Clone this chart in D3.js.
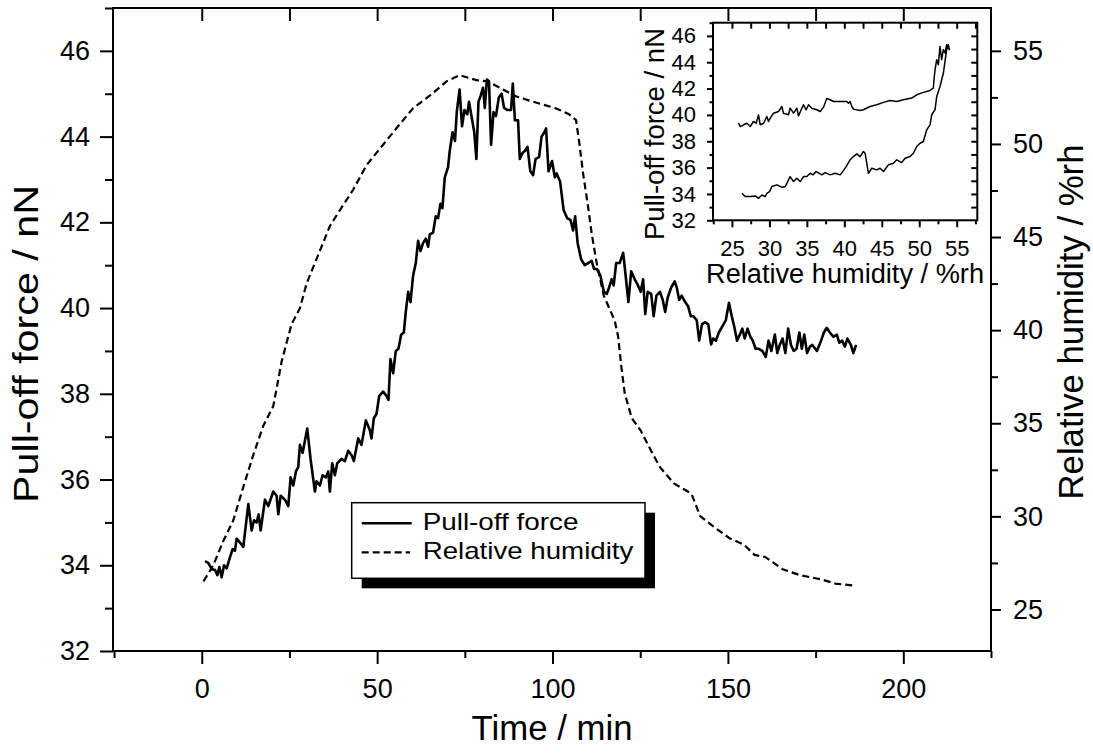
<!DOCTYPE html>
<html><head><meta charset="utf-8">
<script src="https://cdn.jsdelivr.net/npm/d3@7"></script>
<style>
html,body{margin:0;padding:0;background:#fff;}
svg{display:block;font-family:"Liberation Sans",Arial,sans-serif;}
</style></head>
<body><svg id="chart" width="1093" height="753"></svg>
<script>
// ---------- data ----------
const forceTime = [0.94,1.89,2.84,3.79,4.45,5.02,5.68,6.35,7.11,8.06,8.82,9.48,9.95,10.9,11.85,13.28,14.23,14.89,15.65,16.22,16.79,18.02,18.97,20.39,21.34,21.82,22.48,23.72,24.67,25.33,26.09,26.85,27.51,27.99,28.75,30.08,31.02,32.26,32.73,33.68,34.44,35.39,36.06,36.53,37.19,37.95,38.62,39.85,40.8,41.75,42.7,43.36,44.6,45.55,46.78,47.92,48.39,49.06,49.82,50.58,51.72,52.67,53.23,53.8,54.56,55.32,56.08,56.84,57.6,58.17,58.84,59.5,60.26,61.02,61.68,62.35,63.11,63.87,64.53,65.0,65.95,66.71,67.38,68.04,68.61,69.28,70.22,
70.7,71.5,72.2,72.7,73.5,74.2,74.89,75.69,76.19,76.89,77.69,78.29,78.89,79.49,80.19,80.69,81.29,81.89,82.48,83.18,83.88,84.68,85.48,86.18,87.18,88.18,88.68,89.28,90.17,90.67,91.47,92.17,92.87,93.67,94.47,95.17,96.17,96.87,97.66,98.16,98.86,99.86,100.66,101.16,102.16,103.16,104.16,105.16,105.85,106.45,107.15,108.15,109.15,110.15,111.15,111.85,112.65,113.64,114.64,115.44,116.14,116.84,117.44,118.14,119.14,120.14,120.84,121.63,122.43,123.43,124.13,125.13,125.83,126.43,127.13,128.13,128.82,129.62,130.62,131.42,132.12,132.82,133.82,134.82,135.42,136.12,136.81,137.81,138.61,139.41,140.11,141.11,141.81,142.61,143.41,144.41,145.2,145.8,146.6,147.4,148.4,149.4,150.3,151.1,151.8,152.6,153.39,154.09,154.79,155.59,156.39,157.09,157.89,158.79,159.79,160.78,161.58,162.38,163.38,164.08,164.78,165.58,166.38,167.18,167.97,168.77,169.57,170.37,171.07,171.77,172.57,173.37,174.07,175.37,176.56,177.36,178.16,179.06,180.06,181.06,181.76,182.56,183.35,184.05,185.05,185.75,186.55];
const forceValue = [34.10,34.05,33.91,33.89,33.77,33.96,33.72,34.00,33.93,34.19,34.38,34.34,34.62,34.53,34.43,35.43,34.81,35.05,35.00,35.19,34.81,35.53,35.38,35.72,35.62,35.19,35.62,35.53,35.38,36.05,35.86,36.19,36.29,36.81,36.62,37.19,36.48,35.72,35.96,35.86,36.10,36.05,36.19,35.72,36.38,36.10,36.38,36.48,36.43,36.67,36.57,36.43,36.96,36.81,37.38,37.15,36.96,37.43,37.53,37.95,38.05,37.95,37.86,38.81,38.48,39.00,39.05,39.38,39.43,39.91,40.38,40.14,40.76,41.05,41.57,41.33,41.52,41.62,41.43,41.72,41.76,42.14,42.10,42.43,42.33,43.05,43.29,
43.67,44.10,43.90,44.57,45.10,44.24,44.62,44.52,44.81,44.48,44.10,43.48,44.81,44.95,45.14,44.67,45.33,45.29,43.81,44.57,44.48,44.91,45.00,44.67,44.62,44.62,45.24,44.38,44.38,43.48,43.62,43.67,43.76,43.19,43.10,43.48,43.52,44.00,44.10,44.19,43.19,43.43,43.05,43.14,42.95,42.29,42.10,42.05,41.81,42.14,41.52,41.14,41.00,41.05,41.10,40.91,40.91,40.76,40.38,40.33,40.48,40.67,40.53,41.05,41.05,41.29,40.76,40.14,40.86,40.67,40.57,40.38,40.67,39.86,40.38,40.33,39.81,40.29,40.38,40.19,39.91,40.24,40.48,40.62,40.48,40.19,40.29,40.14,40.05,39.81,39.81,39.72,39.24,39.62,39.67,39.62,39.15,39.29,39.24,39.43,39.57,39.72,40.12,39.81,39.57,39.24,39.38,39.52,39.29,39.52,39.33,39.24,39.05,39.05,39.00,38.86,39.24,39.00,39.38,38.95,39.14,39.29,38.95,39.52,39.14,39.00,39.05,39.43,39.05,39.38,38.95,39.10,39.14,39.00,39.24,39.43,39.54,39.43,39.33,39.38,39.19,39.24,39.10,39.29,39.14,38.95,39.14];

const rhTime  = [0.5,3.3,6.2,9.0,11.8,14.7,17.5,20.4,22.8,25.6,28.0,29.9,33.2,36.5,39.4,43.2,47.0,51.7,55.5,60.3,65.0,69.8,73.5,78.3,81.6,85.9,89.7,94.4,100.7,104.7,106.7,107.7,108.7,110.1,111.2,112.6,114.6,117.7,118.7,119.7,120.6,122.6,125.1,128.1,130.6,134.6,139.6,142.1,146.6,150.6,154.6,157.6,160.6,165.6,170.6,176.6,180.6,185.6];
const rhValue = [26.51,27.38,28.70,29.79,31.55,33.30,34.84,35.93,38.34,40.32,41.19,42.51,44.04,45.58,46.45,47.55,48.87,49.96,50.84,51.93,52.59,53.36,53.69,53.43,53.36,52.92,52.55,52.27,51.93,51.60,51.28,49.96,48.43,46.67,45.14,43.60,41.85,40.53,39.66,37.90,36.59,35.27,34.62,33.52,32.65,31.77,31.22,30.01,29.35,28.81,28.48,27.93,27.82,27.16,26.84,26.62,26.39,26.29];

// inset: pull-off force against relative humidity (rising branch then falling branch)
const insetHumidity = [26.33,26.77,27.44,28.11,28.55,29.0,29.44,29.66,30.02,30.33,31.0,31.66,32.11,32.55,32.77,33.22,33.66,34.11,34.55,35.0,35.44,35.8,36.24,37.0,37.44,38.11,38.77,39.44,39.88,40.24,40.77,41.22,41.66,42.11,42.55,42.77,43.22,43.66,44.33,44.77,45.22,45.88,46.55,47.0,47.66,48.11,48.77,49.22,49.66,50.11,50.55,51.0,51.44,51.66,52.11,52.33,52.77,53.22,53.44,53.66,53.88,
54.02,53.66,53.44,53.22,52.99,52.77,52.55,52.33,52.11,51.97,51.88,51.44,50.55,49.66,49.0,47.88,47.0,46.11,45.22,44.33,43.44,42.55,42.11,41.22,41.0,40.77,40.55,40.33,38.55,38.11,37.66,37.22,36.77,36.33,35.66,35.22,34.91,34.55,34.33,33.88,33.66,33.22,32.77,32.55,31.88,31.66,31.22,30.55,30.11,29.88,29.66,29.22,28.77,28.55,28.24,27.88,27.44,27.0,26.55,26.11,25.88];
const insetForce = [34.05,33.80,33.80,33.85,33.67,33.92,33.80,34.05,34.18,34.56,34.69,34.51,34.56,35.07,35.32,34.94,35.19,34.94,35.32,35.32,35.57,35.45,35.70,35.45,35.62,35.45,35.57,35.45,35.77,36.08,36.59,36.84,37.04,36.84,37.22,37.09,35.57,35.95,35.83,35.95,35.70,36.21,36.33,36.59,36.38,36.71,36.84,37.09,37.60,37.85,37.98,38.87,39.25,40.01,40.39,41.40,42.16,43.18,44.06,44.95,45.33,
44.95,45.33,44.70,44.95,44.19,45.20,43.81,44.19,43.43,42.67,42.04,41.86,41.71,41.53,41.28,41.15,41.02,41.10,40.95,40.77,40.64,40.39,40.34,40.44,40.64,41.02,40.89,41.02,41.02,41.15,41.25,40.59,40.26,40.39,40.51,40.77,40.39,40.77,40.51,39.93,40.51,40.13,40.51,40.01,40.13,40.64,40.26,40.13,39.75,39.50,39.88,39.37,39.25,40.01,39.37,39.50,39.12,39.37,39.25,39.12,39.37];

const timeTicks = [0,50,100,150,200];
const forceTicks = [32,34,36,38,40,42,44,46];
const rhTicks = [25,30,35,40,45,50,55];
const insetRhTicks = [25,30,35,40,45,50,55];
const legendLabels = ["Pull-off force","Relative humidity"];

// ---------- drawing ----------
const svg = d3.select("#chart");
const L=113, R=991, T=8, B=651;
const x = d3.scaleLinear().domain([-25.3,225]).range([L,R]);
const yF = d3.scaleLinear().domain([32,47]).range([B,T]);
const yH = d3.scaleLinear().domain([22.77,57.3]).range([B,T]);

const fontMain = 27;
function styleAxis(g, fs){
  g.select(".domain").remove();
  g.selectAll(".tick line").attr("stroke","#000").attr("stroke-width",2);
  g.selectAll(".tick text").attr("fill","#000").style("font-size",fs+"px").style("font-family","'Liberation Sans',Arial,sans-serif");
}
const range = (a,b,s)=>d3.range(a,b+s/2,s);

// bottom axis
svg.append("g").attr("transform",`translate(0,${B})`)
  .call(d3.axisBottom(x).tickValues(range(-25,225,25).filter(v=>v%50!==0)).tickSize(7).tickFormat(""))
  .call(g=>styleAxis(g,fontMain));
svg.append("g").attr("transform",`translate(0,${B})`)
  .call(d3.axisBottom(x).tickValues(timeTicks).tickSize(13).tickPadding(15).tickFormat(d3.format("d")))
  .call(g=>styleAxis(g,fontMain));
// top axis (inner ticks)
svg.append("g").attr("transform",`translate(0,${T})`)
  .call(d3.axisBottom(x).tickValues(range(0,200,25)).tickSize(13).tickFormat(""))
  .call(g=>styleAxis(g,fontMain));
// left axis
svg.append("g").attr("transform",`translate(${L},0)`)
  .call(d3.axisLeft(yF).tickValues(range(33,47,2)).tickSize(8).tickFormat(""))
  .call(g=>styleAxis(g,fontMain));
svg.append("g").attr("transform",`translate(${L},0)`)
  .call(d3.axisLeft(yF).tickValues(forceTicks).tickSize(13).tickPadding(10).tickFormat(d3.format("d")))
  .call(g=>styleAxis(g,fontMain));
// right axis
svg.append("g").attr("transform",`translate(${R},0)`)
  .call(d3.axisRight(yH).tickValues(range(27.5,52.5,5)).tickSize(7).tickFormat(""))
  .call(g=>styleAxis(g,fontMain));
svg.append("g").attr("transform",`translate(${R},0)`)
  .call(d3.axisRight(yH).tickValues(rhTicks).tickSize(10).tickPadding(12).tickFormat(d3.format("d")))
  .call(g=>styleAxis(g,fontMain));

// frame
svg.append("rect").attr("x",L).attr("y",T).attr("width",R-L).attr("height",B-T)
  .attr("fill","none").attr("stroke","#000").attr("stroke-width",2);

// series
const lineF = d3.line().x((d,i)=>x(forceTime[i])).y(d=>yF(d));
svg.append("path").datum(forceValue).attr("d",lineF)
  .attr("fill","none").attr("stroke","#000").attr("stroke-width",2.6).attr("stroke-linejoin","round");
const lineH = d3.line().x((d,i)=>x(rhTime[i])).y(d=>yH(d));
svg.append("path").datum(rhValue).attr("d",lineH)
  .attr("fill","none").attr("stroke","#000").attr("stroke-width",2.2).attr("stroke-dasharray","7,4");

// axis titles
svg.append("text").attr("x",552).attr("y",740).attr("text-anchor","middle")
  .attr("textLength",161).attr("lengthAdjust","spacingAndGlyphs")
  .style("font-size","35px").text("Time / min");
svg.append("text").attr("transform","translate(38,344) rotate(-90)").attr("text-anchor","middle")
  .attr("textLength",318).attr("lengthAdjust","spacingAndGlyphs")
  .style("font-size","35px").text("Pull-off force / nN");
svg.append("text").attr("transform","translate(1083,322) rotate(-90)").attr("text-anchor","middle")
  .attr("textLength",355).attr("lengthAdjust","spacingAndGlyphs")
  .style("font-size","35px").text("Relative humidity / %rh");

// legend
const lg = svg.append("g");
lg.append("rect").attr("x",361.7).attr("y",512.7).attr("width",293.3).attr("height",75.6).attr("fill","#000");
lg.append("rect").attr("x",351.7).attr("y",502.7).attr("width",293.3).attr("height",75.6).attr("fill","#fff").attr("stroke","#000").attr("stroke-width",1.5);
lg.append("line").attr("x1",361.7).attr("x2",411.7).attr("y1",523.3).attr("y2",523.3).attr("stroke","#000").attr("stroke-width",2.6);
lg.append("line").attr("x1",361.7).attr("x2",410).attr("y1",552.3).attr("y2",552.3).attr("stroke","#000").attr("stroke-width",2.2).attr("stroke-dasharray","7,4");
lg.append("text").attr("x",422.7).attr("y",530).attr("textLength",155.7).attr("lengthAdjust","spacingAndGlyphs").style("font-size","24px").text(legendLabels[0]);
lg.append("text").attr("x",422.7).attr("y",559).attr("textLength",210.7).attr("lengthAdjust","spacingAndGlyphs").style("font-size","24px").text(legendLabels[1]);

// ---------- inset ----------
const iL=713, iR=977.3, iT=22.7, iB=220.3;
const xi = d3.scaleLinear().domain([22.47,57.75]).range([iL,iR]);
const yi = d3.scaleLinear().domain([32,47]).range([iB,iT]);
const fontInset = 22;
const ins = svg.append("g");
ins.append("rect").attr("x",iL).attr("y",iT).attr("width",iR-iL).attr("height",iB-iT).attr("fill","#fff");
// bottom
ins.append("g").attr("transform",`translate(0,${iB})`)
  .call(d3.axisBottom(xi).tickValues(range(22.5,57.5,5)).tickSize(4).tickFormat(""))
  .call(g=>styleAxis(g,fontInset));
ins.append("g").attr("transform",`translate(0,${iB})`)
  .call(d3.axisBottom(xi).tickValues(insetRhTicks).tickSize(7).tickPadding(13).tickFormat(d3.format("d")))
  .call(g=>styleAxis(g,fontInset));
// top (inner)
ins.append("g").attr("transform",`translate(0,${iT})`)
  .call(d3.axisBottom(xi).tickValues(range(25,57.5,2.5)).tickSize(6).tickFormat(""))
  .call(g=>styleAxis(g,fontInset));
// left
ins.append("g").attr("transform",`translate(${iL},0)`)
  .call(d3.axisLeft(yi).tickValues(range(33,47,2)).tickSize(3.5).tickFormat(""))
  .call(g=>styleAxis(g,fontInset));
ins.append("g").attr("transform",`translate(${iL},0)`)
  .call(d3.axisLeft(yi).tickValues(forceTicks).tickSize(6).tickPadding(11).tickFormat(d3.format("d")))
  .call(g=>styleAxis(g,fontInset));
// right (inner)
ins.append("g").attr("transform",`translate(${iR},0)`)
  .call(d3.axisLeft(yi).tickValues(range(33,46,1)).tickSize(6).tickFormat(""))
  .call(g=>styleAxis(g,fontInset));
ins.append("rect").attr("x",iL).attr("y",iT).attr("width",iR-iL).attr("height",iB-iT)
  .attr("fill","none").attr("stroke","#000").attr("stroke-width",2);
const lineI = d3.line().x((d,i)=>xi(insetHumidity[i])).y(d=>yi(d));
ins.append("path").datum(insetForce).attr("d",lineI)
  .attr("fill","none").attr("stroke","#000").attr("stroke-width",1.5).attr("stroke-linejoin","round");
ins.append("text").attr("x",845).attr("y",283).attr("text-anchor","middle")
  .attr("textLength",278).attr("lengthAdjust","spacingAndGlyphs")
  .style("font-size","27px").text("Relative humidity / %rh");
ins.append("text").attr("transform","translate(664,134) rotate(-90)").attr("text-anchor","middle")
  .attr("textLength",212).attr("lengthAdjust","spacingAndGlyphs")
  .style("font-size","27px").text("Pull-off force / nN");
</script></body></html>
